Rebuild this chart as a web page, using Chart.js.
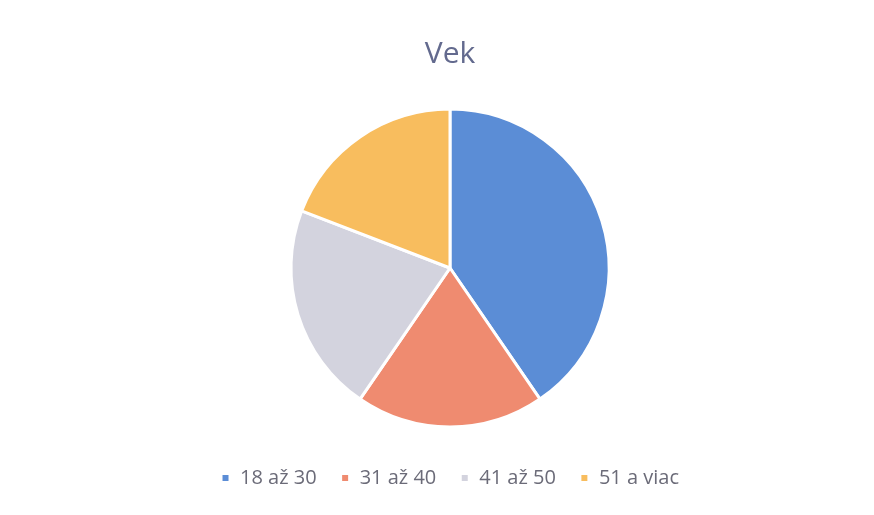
<!DOCTYPE html>
<html>
<head>
<meta charset="utf-8">
<script src="https://cdn.jsdelivr.net/npm/chart.js@4/dist/chart.umd.min.js"></script>
<style>
  html, body { margin: 0; padding: 0; background: #ffffff; }
  #wrap { width: 874px; height: 515px; }
</style>
</head>
<body>
<div id="wrap"><canvas id="chartAge" width="874" height="515"></canvas></div>
<script>
const categories = ['18 až 30', '31 až 40', '41 až 50', '51 a viac'];
const counts = [19, 9, 10, 9];
const sliceColors = ['#5b8dd6', '#ef8b70', '#d3d3de', '#f8bd5e'];

new Chart(document.getElementById('chartAge'), {
  type: 'pie',
  data: {
    labels: categories,
    datasets: [
      {
        data: counts,
        backgroundColor: sliceColors,
        borderColor: '#ffffff',
        borderWidth: 3,
        radius: 159
      }
    ]
  },
  options: {
    responsive: false,
    animation: false,
    events: [],
    layout: { padding: { left: 26, right: 0, top: 0, bottom: 17 } },
    plugins: {
      title: {
        display: true,
        text: 'Vek',
        color: '#636a8e',
        font: { family: 'Open Sans', size: 30, weight: 'normal' },
        padding: { top: 36, bottom: 20 }
      },
      legend: {
        position: 'bottom',
        labels: {
          color: '#6b6b78',
          font: { family: 'Open Sans', size: 20 },
          boxWidth: 9,
          boxHeight: 9,
          padding: 24
        }
      },
      tooltip: { enabled: false }
    }
  }
});
</script>
</body>
</html>
